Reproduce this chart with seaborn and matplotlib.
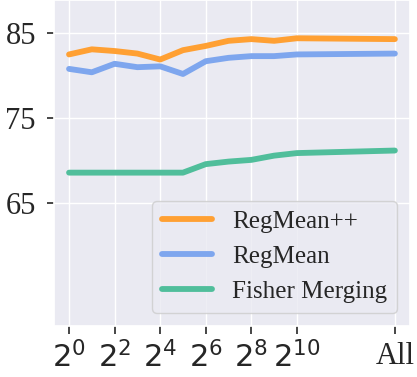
import numpy as np
import pandas as pd
import matplotlib
matplotlib.use("Agg")
import matplotlib.pyplot as plt
import seaborn as sns

# x positions: log2 of number of samples, "All" placed at the far right
x_pos = [0, 1, 2, 3, 4, 5, 6, 7, 8, 9, 10, 14.3]
tick_pos = [0, 2, 4, 6, 8, 10, 14.3]
tick_labels = [r"$2^{0}$", r"$2^{2}$", r"$2^{4}$", r"$2^{6}$", r"$2^{8}$", r"$2^{10}$", "All"]

regmean_pp = [82.5, 83.1, 82.9, 82.6, 81.9, 83.0, 83.5, 84.1, 84.3, 84.1, 84.4, 84.3]
regmean = [80.8, 80.4, 81.4, 81.0, 81.1, 80.2, 81.7, 82.1, 82.3, 82.3, 82.5, 82.6]
fisher = [68.6, 68.6, 68.6, 68.6, 68.6, 68.6, 69.6, 69.9, 70.1, 70.6, 70.9, 71.2]

methods = ["RegMean++", "RegMean", "Fisher Merging"]
colors = {"RegMean++": "#FFA033", "RegMean": "#7EA6EE", "Fisher Merging": "#50BE9B"}

df = pd.concat([
    pd.DataFrame({"x": x_pos, "acc": regmean_pp, "method": "RegMean++"}),
    pd.DataFrame({"x": x_pos, "acc": regmean, "method": "RegMean"}),
    pd.DataFrame({"x": x_pos, "acc": fisher, "method": "Fisher Merging"}),
])

sns.set_theme(style="darkgrid")
plt.rcParams["font.family"] = ["Liberation Serif", "DejaVu Serif"]
plt.rcParams["mathtext.fontset"] = "dejavusans"

fig = plt.figure(figsize=(4.17, 3.77), dpi=100)
ax = fig.add_axes([0.1295, 0.136, 0.8535, 0.864])

sns.lineplot(data=df, x="x", y="acc", hue="method", hue_order=methods,
             palette=colors, linewidth=4.2, ax=ax)

ax.set_xlim(-0.66, 14.96)
ax.set_ylim(50.6, 88.9)
ax.set_yticks([65, 75, 85])
ax.set_xticks(tick_pos)
ax.set_xticklabels(tick_labels)
ax.set_xlabel("")
ax.set_ylabel("")
ax.tick_params(axis="y", left=True, length=5, width=1.2, color=".15", pad=8, labelsize=22)
ax.tick_params(axis="x", bottom=True, length=5.5, width=1.2, color=".15", pad=6, labelsize=22)

ax.legend(loc="lower right", fontsize=18, handlelength=2.0, frameon=True)

fig.savefig("out.png", dpi=100)
